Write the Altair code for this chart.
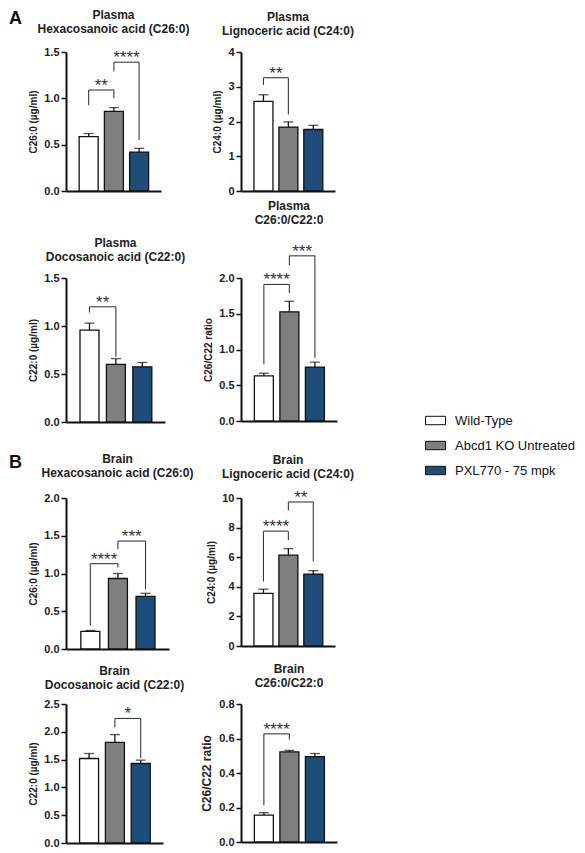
import altair as alt
import pandas as pd

# ---------------- data ----------------
groups = ["Wild-Type", "Abcd1 KO Untreated", "PXL770 - 75 mpk"]
group_colors = ["#ffffff", "#7f7f7f", "#1d4d78"]

panel_titles = [
    ["Plasma", "Hexacosanoic acid (C26:0)"],
    ["Plasma", "Lignoceric acid (C24:0)"],
    ["Plasma", "Docosanoic acid (C22:0)"],
    ["Plasma", "C26:0/C22:0"],
    ["Brain", "Hexacosanoic acid (C26:0)"],
    ["Brain", "Lignoceric acid (C24:0)"],
    ["Brain", "Docosanoic acid (C22:0)"],
    ["Brain", "C26:0/C22:0"],
]
y_titles = ["C26:0 (µg/ml)", "C24:0 (µg/ml)", "C22:0 (µg/ml)", "C26/C22 ratio",
            "C26:0 (µg/ml)", "C24:0 (µg/ml)", "C22:0 (µg/ml)", "C26/C22 ratio"]
y_max = [1.5, 4, 1.5, 2.0, 2.0, 10, 2.5, 0.8]
y_ticks = [
    [0, 0.5, 1.0, 1.5],
    [0, 1, 2, 3, 4],
    [0, 0.5, 1.0, 1.5],
    [0, 0.5, 1.0, 1.5, 2.0],
    [0, 0.5, 1.0, 1.5, 2.0],
    [0, 2, 4, 6, 8, 10],
    [0, 0.5, 1.0, 1.5, 2.0, 2.5],
    [0, 0.2, 0.4, 0.6, 0.8],
]
y_formats = [".1f", "d", ".1f", ".1f", ".1f", "d", ".1f", ".1f"]

means = [
    [0.586, 0.86, 0.42],
    [2.58, 1.84, 1.77],
    [0.956, 0.60, 0.575],
    [0.63, 1.527, 0.754],
    [0.233, 0.934, 0.697],
    [3.56, 6.14, 4.86],
    [1.52, 1.81, 1.43],
    [0.156, 0.522, 0.495],
]
sems = [
    [0.034, 0.04, 0.04],
    [0.19, 0.15, 0.12],
    [0.074, 0.06, 0.045],
    [0.037, 0.147, 0.069],
    [0.013, 0.066, 0.04],
    [0.28, 0.44, 0.23],
    [0.09, 0.14, 0.06],
    [0.014, 0.009, 0.018],
]
# significance brackets: (bar i, bar j, bracket level, left leg end, right leg end, label)
brackets = [
    [(0, 1, 1.09, 0.925, 1.0, "**"), (1, 2, 1.39, 1.29, 0.55, "****")],
    [(0, 1, 3.26, 3.06, 2.2, "**")],
    [(0, 1, 1.20, 1.14, 0.68, "**")],
    [(0, 1, 1.91, 0.795, 1.79, "****"), (1, 2, 2.31, 2.18, 0.88, "***")],
    [(0, 1, 1.13, 0.31, 1.08, "****"), (1, 2, 1.43, 1.32, 0.79, "***")],
    [(0, 1, 7.76, 4.36, 7.17, "****"), (1, 2, 9.73, 9.16, 5.73, "**")],
    [(1, 2, 2.24, 2.08, 1.53, "*")],
    [(0, 1, 0.627, 0.213, 0.594, "****")],
]

# ---------------- layout / style ----------------
FONT = "Liberation Sans"
widths = [95, 94, 99, 96, 103, 94, 97, 96]
heights = [139, 139, 144, 143, 151, 148, 139, 138]
title_offsets = [10, 8, 8, 16, 12, 8, 6, 8]
ytitle_sizes = [10, 10, 10, 10, 10, 10, 10, 12]
gaps = [87, 76, 55]
col_w = [103, 96]


def make_panel(k):
    bar_df = pd.DataFrame({
        "idx": [0, 1, 2],
        "group": groups,
        "mean": means[k],
        "hi": [m + s for m, s in zip(means[k], sems[k])],
    })
    seg_rows = []
    txt_rows = []
    for (i, j, lvl, yl, yr, lab) in brackets[k]:
        seg_rows.append({"x": i, "x2": j, "y": lvl, "y2": lvl})
        seg_rows.append({"x": i, "x2": i, "y": lvl, "y2": yl})
        seg_rows.append({"x": j, "x2": j, "y": lvl, "y2": yr})
        txt_rows.append({"x": (i + j) / 2, "y": lvl, "label": lab})
    seg_df = pd.DataFrame(seg_rows)
    txt_df = pd.DataFrame(txt_rows)

    xscale = alt.Scale(domain=[-0.7, 2.67], nice=False, zero=False)
    xaxis = alt.Axis(title=None, labels=False, ticks=False, grid=False,
                     domainColor="#111111", domainWidth=2)
    yscale = alt.Scale(domain=[0, y_max[k]], nice=False, zero=True)
    yaxis = alt.Axis(title=y_titles[k], values=y_ticks[k], format=y_formats[k], grid=False,
                     domainColor="#111111", domainWidth=2, tickColor="#111111", tickWidth=1.5,
                     tickSize=5, labelFont=FONT, labelFontSize=11, labelFontWeight="bold",
                     labelColor="#222222", labelPadding=2, titleFont=FONT,
                     titleFontSize=ytitle_sizes[k], titleFontWeight="bold", titleColor="#222222",
                     titlePadding=5)

    def X(f):
        return alt.X(f, type="quantitative", scale=xscale, axis=xaxis)

    def Y(f):
        return alt.Y(f, type="quantitative", scale=yscale, axis=yaxis)

    legend = alt.Legend(title=None, orient="none", legendX=359, legendY=358,
                        symbolType="M-1,-0.42H1V0.42H-1Z", symbolSize=400,
                        symbolStrokeColor="#111111", symbolStrokeWidth=1,
                        labelFont=FONT, labelFontSize=13, labelColor="#111111",
                        labelOffset=9, rowPadding=7, padding=0)

    bars = alt.Chart(bar_df).mark_bar(size=19, stroke="#111111", strokeWidth=1.3).encode(
        x=X("idx"), y=Y("mean"),
        color=alt.Color("group:N", scale=alt.Scale(domain=groups, range=group_colors),
                        legend=legend, sort=groups),
    )
    err = alt.Chart(bar_df).mark_rule(color="#111111", strokeWidth=1.3).encode(
        x=X("idx"), y=Y("mean"), y2="hi")
    cap = alt.Chart(bar_df).mark_tick(color="#111111", orient="horizontal", size=10,
                                      thickness=1.3).encode(x=X("idx"), y=Y("hi"))
    segs = alt.Chart(seg_df).mark_rule(color="#3a3a3a", strokeWidth=1.1).encode(
        x=X("x"), x2="x2", y=Y("y"), y2="y2")
    stars = alt.Chart(txt_df).mark_text(font=FONT, fontSize=17, color="#333333",
                                        baseline="alphabetic", align="center", dy=1).encode(
        x=X("x"), y=Y("y"), text="label:N")

    return alt.layer(bars, err, cap, segs, stars).properties(
        width=widths[k], height=heights[k],
        title=alt.TitleParams(panel_titles[k], font=FONT, fontSize=12, fontWeight="bold",
                              color="#222222", anchor="middle", frame="group",
                              lineHeight=14, offset=title_offsets[k]),
    )


def spacer(w, h, title=None):
    base = alt.Chart(pd.DataFrame({"s": [0]})).mark_point(size=1, opacity=0).encode(
        x=alt.value(0), y=alt.value(0))
    if title is None:
        return base.properties(width=w, height=h)
    return base.properties(width=w, height=h, title=title)


def letter(txt, dy):
    return alt.TitleParams(txt, font=FONT, fontSize=18, fontWeight="bold", color="#111111",
                           anchor="start", frame="group", orient="top", baseline="top",
                           offset=0, dx=-57, dy=dy)


cells = [
    make_panel(0), make_panel(1),
    spacer(col_w[0], gaps[0], letter("A", -163)), spacer(col_w[1], gaps[0]),
    make_panel(2), make_panel(3),
    spacer(col_w[0], gaps[1], letter("B", 50)), spacer(col_w[1], gaps[1]),
    make_panel(4), make_panel(5),
    spacer(col_w[0], gaps[2]), spacer(col_w[1], gaps[2]),
    make_panel(6), make_panel(7),
]

chart = alt.concat(
    *cells, columns=2, spacing={"row": 0, "column": 72}, bounds="flush",
    padding=0,
).configure(font=FONT, background="white").configure_view(stroke="transparent")

chart.save("out.html", embed_options={"renderer": "svg", "actions": False})
